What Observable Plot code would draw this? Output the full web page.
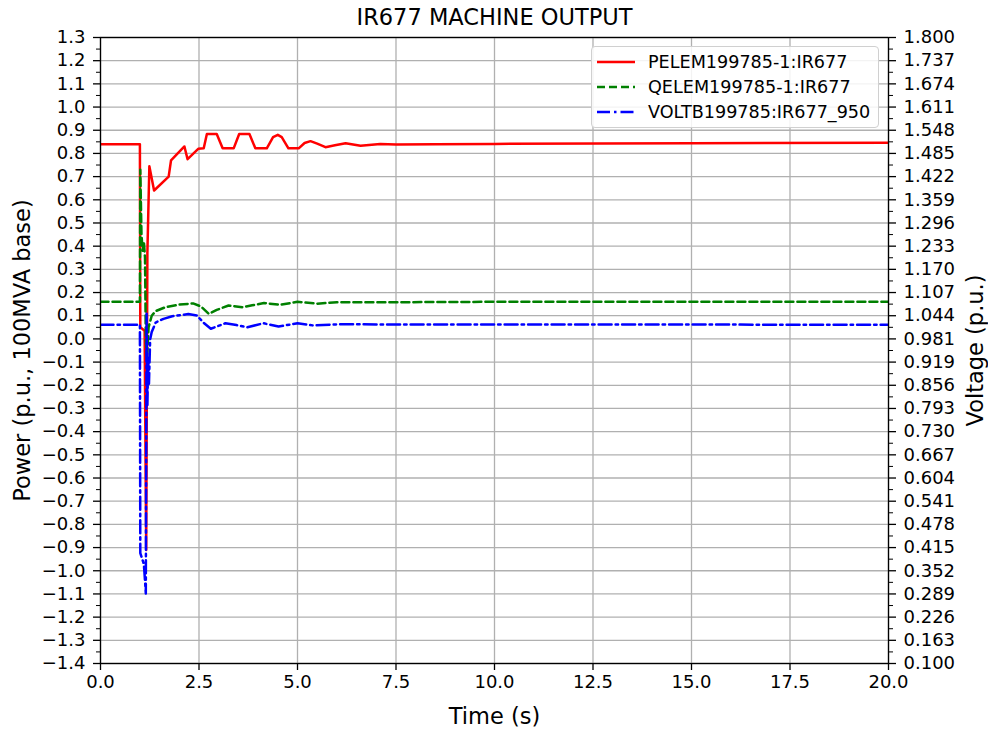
<!DOCTYPE html>
<html>
<head>
<meta charset="utf-8">
<script src="https://cdn.jsdelivr.net/npm/d3@7"></script>
<script src="https://cdn.jsdelivr.net/npm/@observablehq/plot@0.6"></script>
<style>
  html, body { margin: 0; padding: 0; background: white; }
  #wrap { position: relative; width: 988px; height: 731px; font-family: "DejaVu Sans", sans-serif; }
  #legend { position: absolute; left: 591px; top: 46px; width: 288px; height: 82px;
    border: 1px solid #d0d0d0; border-radius: 4px; background: rgba(255,255,255,0.85); box-sizing: border-box; }
  .row { position: absolute; left: 0; height: 25px; display: flex; align-items: center; font-size: 17.6px; color: #000; }
  .row svg { margin-left: 5px; margin-right: 13px; }
</style>
</head>
<body>
<div id="wrap"><div id="chart"></div><div id="legend"></div></div>
<script>
// ---- Data ----
const title = "IR677 MACHINE OUTPUT";
const seriesNames = ["PELEM199785-1:IR677", "QELEM199785-1:IR677", "VOLTB199785:IR677_950"];

// Active power P (p.u., left axis)
const pTime  = [0, 1.0, 1.01, 1.12, 1.16, 1.19, 1.24, 1.36, 1.73, 1.79, 2.13, 2.21, 2.48, 2.62, 2.7, 2.95, 3.1, 3.38, 3.52, 3.78, 3.93, 4.22, 4.38, 4.5, 4.6, 4.77, 5.03, 5.18, 5.33, 5.5, 5.71, 5.95, 6.22, 6.6, 7.1, 7.5, 8.5, 10, 15, 20];
const pValue = [0.84, 0.84, 0.05, 0.035, -0.91, 0.37, 0.745, 0.64, 0.70, 0.77, 0.83, 0.775, 0.82, 0.822, 0.884, 0.884, 0.822, 0.822, 0.884, 0.884, 0.822, 0.822, 0.87, 0.88, 0.87, 0.822, 0.822, 0.845, 0.853, 0.842, 0.827, 0.835, 0.844, 0.833, 0.841, 0.838, 0.840, 0.841, 0.844, 0.846];

// Reactive power Q (p.u., left axis)
const qTime  = [0, 1.0, 1.01, 1.04, 1.07, 1.1, 1.13, 1.15, 1.18, 1.22, 1.3, 1.4, 1.65, 2.0, 2.35, 2.55, 2.75, 2.95, 3.25, 3.6, 3.85, 4.15, 4.55, 5.0, 5.5, 6.0, 7.0, 10, 20];
const qValue = [0.16, 0.16, 0.73, 0.45, 0.38, 0.42, 0.35, 0.0, -0.09, 0.05, 0.10, 0.12, 0.137, 0.148, 0.153, 0.14, 0.108, 0.125, 0.144, 0.137, 0.145, 0.155, 0.147, 0.16, 0.152, 0.158, 0.158, 0.16, 0.16];

// Bus voltage V (p.u., right axis)
const vTime  = [0, 1.0, 1.01, 1.1, 1.12, 1.15, 1.17, 1.19, 1.21, 1.23, 1.26, 1.3, 1.4, 1.6, 1.82, 2.23, 2.45, 2.62, 2.8, 3.17, 3.45, 3.72, 4.14, 4.52, 5.0, 5.4, 6.0, 20];
const vValue = [1.020, 1.020, 0.40, 0.37, 0.34, 0.29, 1.05, 0.80, 0.93, 0.86, 0.98, 1.0, 1.026, 1.036, 1.043, 1.049, 1.045, 1.025, 1.009, 1.024, 1.019, 1.013, 1.024, 1.015, 1.024, 1.018, 1.021, 1.020];

// Tick values
const xTicks = [0, 2.5, 5, 7.5, 10, 12.5, 15, 17.5, 20];
const powerTicks = [-1.4, -1.3, -1.2, -1.1, -1.0, -0.9, -0.8, -0.7, -0.6, -0.5, -0.4, -0.3, -0.2, -0.1, 0.0, 0.1, 0.2, 0.3, 0.4, 0.5, 0.6, 0.7, 0.8, 0.9, 1.0, 1.1, 1.2, 1.3];
const voltTickLabels = ["0.100","0.163","0.226","0.289","0.352","0.415","0.478","0.541","0.604","0.667","0.730","0.793","0.856","0.919","0.981","1.044","1.107","1.170","1.233","1.296","1.359","1.422","1.485","1.548","1.611","1.674","1.737","1.800"];
const voltDomain = [0.1, 1.8];
const powerDomain = [-1.4, 1.3];

// ---- Build ----
const P = pTime.map((t, i) => ({t, y: pValue[i]}));
const Q = qTime.map((t, i) => ({t, y: qValue[i]}));
const V = vTime.map((t, i) => ({t, v: vValue[i]}));
const v2p = d3.scaleLinear(voltDomain, powerDomain);
const voltTicks = d3.range(voltTickLabels.length).map(i => voltDomain[0] + i * (voltDomain[1] - voltDomain[0]) / (voltTickLabels.length - 1));
const voltTicksP = voltTicks.map(v2p);
const powerMinor = d3.pairs(powerTicks).map(([a, b]) => (a + b) / 2);
const voltMinorP = d3.pairs(voltTicksP).map(([a, b]) => (a + b) / 2);
const fmt1 = d3.format(".1f");

const colors = ["#ff0000", "#008000", "#0000ff"];
const dashes = [null, "8,4", "13,4,2.5,4"];
const lw = 2.5;

const chart = Plot.plot({
  width: 988, height: 731,
  marginLeft: 100, marginRight: 100, marginTop: 37, marginBottom: 68,
  x: {domain: [0, 20]},
  y: {domain: powerDomain},
  style: {fontFamily: "DejaVu Sans", fontSize: "18px", color: "black", background: "white"},
  marks: [
    Plot.gridX(xTicks, {stroke: "#b0b0b0", strokeOpacity: 1, strokeWidth: 1.3}),
    Plot.gridY(powerTicks, {stroke: "#b0b0b0", strokeOpacity: 1, strokeWidth: 1.3}),
    Plot.line(P, {x: "t", y: "y", stroke: colors[0], strokeWidth: lw, clip: true}),
    Plot.line(Q, {x: "t", y: "y", stroke: colors[1], strokeWidth: lw, strokeDasharray: dashes[1], clip: true}),
    Plot.line(V, {x: "t", y: d => v2p(d.v), stroke: colors[2], strokeWidth: lw, strokeDasharray: dashes[2], clip: true}),
    Plot.frame({stroke: "black", strokeWidth: 1.3}),
    Plot.axisX(xTicks, {tickSize: 7, tickPadding: 5, tickFormat: fmt1, label: null, strokeWidth: 1.3}),
    Plot.axisY(powerTicks, {anchor: "left", tickSize: 7, tickPadding: 8, tickFormat: fmt1, label: null, strokeWidth: 1.3}),
    Plot.axisY(powerMinor, {anchor: "left", tickSize: 4, tickFormat: () => "", label: null, strokeWidth: 1}),
    Plot.axisY(voltTicksP, {anchor: "right", tickSize: 7, tickPadding: 8, tickFormat: (d, i) => voltTickLabels[i], label: null, strokeWidth: 1.3}),
    Plot.axisY(voltMinorP, {anchor: "right", tickSize: 4, tickFormat: () => "", label: null, strokeWidth: 1}),
    Plot.text([title], {frameAnchor: "top", dy: -20, lineAnchor: "middle", textAnchor: "middle", fontSize: 22.5, fill: "black"}),
    Plot.text(["Time (s)"], {frameAnchor: "bottom", dy: 53, lineAnchor: "middle", textAnchor: "middle", fontSize: 22.5, fill: "black"}),
    Plot.text(["Power (p.u., 100MVA base)"], {frameAnchor: "left", dx: -78, rotate: -90, lineAnchor: "middle", textAnchor: "middle", fontSize: 22.5, fill: "black"}),
    Plot.text(["Voltage (p.u.)"], {frameAnchor: "right", dx: 87, rotate: -90, lineAnchor: "middle", textAnchor: "middle", fontSize: 22.5, fill: "black"})
  ]
});
document.getElementById("chart").appendChild(chart);

// Legend
const legend = document.getElementById("legend");
seriesNames.forEach((name, i) => {
  const row = document.createElement("div");
  row.className = "row";
  row.style.top = (2 + i * 25) + "px";
  row.innerHTML = `<svg width="38" height="10"><line x1="0" y1="5" x2="38" y2="5" stroke="${colors[i]}" stroke-width="${lw}" ${dashes[i] ? `stroke-dasharray="${dashes[i]}"` : ""}/></svg><span>${name}</span>`;
  legend.appendChild(row);
});
</script>
</body>
</html>
